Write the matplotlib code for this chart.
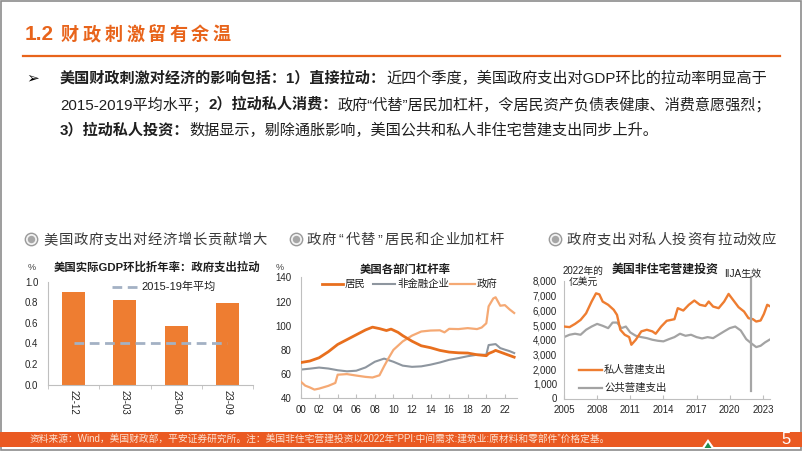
import matplotlib
matplotlib.use("Agg")
import matplotlib.pyplot as plt
from matplotlib.lines import Line2D
from matplotlib.patches import Rectangle, Circle, Polygon

plt.rcParams['font.family'] = ['Liberation Sans', 'Noto Sans CJK SC', 'DejaVu Sans']
plt.rcParams['axes.unicode_minus'] = False

# ---------------- data ----------------
gdp_cats = ['22-12', '23-03', '23-06', '23-09']
gdp_gov = [0.90, 0.82, 0.57, 0.79]
gdp_avg_1519 = 0.40

hh_years = [2000, 2001, 2002, 2003, 2004, 2005, 2006, 2007, 2007.75, 2008.5, 2009.25, 2009.75,
            2010.5, 2011, 2012, 2013, 2014, 2015, 2016, 2017, 2018, 2019, 2020, 2020.25,
            2020.75, 2021, 2022, 2023]
hh_vals = [69.5, 70.8, 73.5, 78.5, 84.5, 88.5, 92.5, 96.5, 98.8, 97.6, 96.0, 97.2,
           94.5, 91.8, 87.2, 83.4, 81.8, 79.6, 78.2, 77.6, 77.4, 76.0, 75.2, 77.0,
           78.6, 79.6, 76.8, 74.0]

nfc_years = [2000, 2001, 2002, 2003, 2004, 2005, 2006, 2007, 2008, 2009, 2010, 2011, 2012,
             2013, 2014, 2015, 2016, 2017, 2018, 2019, 2020, 2020.25, 2021, 2021.5, 2022,
             2022.5, 2023]
nfc_vals = [63.7, 64.5, 65.4, 64.6, 63.2, 62.3, 62.8, 65.5, 70.2, 72.8, 70.2, 67.0, 66.0,
            66.4, 67.8, 69.6, 71.8, 73.2, 74.8, 76.0, 76.0, 84.0, 84.8, 81.5, 80.2,
            79.0, 77.4]

gov_years = [2000, 2000.5, 2001, 2001.5, 2002, 2003, 2003.75, 2004.0, 2005, 2006, 2007,
             2007.75, 2008.5, 2009, 2009.5, 2010, 2011, 2012, 2013, 2014, 2015, 2015.5,
             2016, 2017, 2018, 2019, 2019.5, 2020.0, 2020.25, 2020.75, 2021.0, 2021.5,
             2022, 2022.5, 2023]
gov_vals = [54.0, 50.5, 49.0, 47.2, 48.0, 50.3, 52.7, 59.5, 60.0, 58.8, 57.7,
            57.2, 59.0, 66.5, 73.5, 80.0, 87.0, 91.8, 95.2, 96.0, 96.2, 94.5,
            97.4, 97.2, 98.0, 97.2, 98.5, 102.0, 116.0, 122.5, 123.5, 116.5,
            117.0, 113.5, 110.5]

priv_years = [2005, 2005.5, 2006, 2006.5, 2007, 2007.5, 2007.9, 2008.2, 2008.5, 2009, 2009.5,
              2009.8, 2010.1, 2010.5, 2010.9, 2011.1, 2011.5, 2012, 2012.5, 2013, 2013.3,
              2013.8, 2014.3, 2015, 2015.3, 2015.8, 2016.3, 2016.8, 2017.3, 2017.8, 2018.1,
              2018.5, 2019, 2019.5, 2019.9, 2020.3, 2020.8, 2021.3, 2021.7, 2022.1, 2022.4,
              2022.8, 2023.1, 2023.4, 2023.6]
priv_vals = [4900, 4860, 5080, 5350, 5800, 6600, 7160, 7090, 6600, 6380, 6040,
             5690, 4680, 4340, 4180, 3660, 4000, 4570, 4680, 4570, 4410,
             4900, 5290, 5400, 6150, 5990, 6380, 6670, 6380, 6300, 6600,
             6260, 6150, 6600, 7120, 6720, 6220, 5920, 5470, 5400, 5240,
             5310, 5760, 6380, 6300]

pub_years = [2005, 2005.5, 2006, 2006.5, 2007, 2007.5, 2008, 2008.5, 2009, 2009.4, 2009.8,
             2010.2, 2010.6, 2011, 2011.5, 2012, 2012.5, 2013, 2013.5, 2014, 2014.5, 2015,
             2015.5, 2016, 2016.5, 2017, 2017.5, 2018, 2018.5, 2019, 2019.5, 2020, 2020.5,
             2021, 2021.5, 2022, 2022.4, 2022.8, 2023.2, 2023.6]
pub_vals = [4180, 4340, 4410, 4340, 4680, 4900, 5080, 4950, 4790, 5170, 5170,
            4790, 4900, 4500, 4270, 4180, 4110, 4000, 3930, 3890, 4040, 4180,
            4410, 4270, 4340, 4180, 4090, 4180, 4110, 4340, 4570, 4790, 4900,
            4630, 4040, 3730, 3500, 3590, 3820, 4000]

iija_date = 2021.9

# ---------------- styles ----------------
W, H = 802, 451
ORANGE = '#E8641B'
BAR = '#EE7D31'
HH = '#E86F1E'
GOVC = '#F5A974'
NFC = '#8E969F'
PUB = '#A3A3A3'
TXT = '#1F1F1F'
SPINE = '#BFBFBF'

fig = plt.figure(figsize=(W / 100, H / 100), dpi=100)
fig.patch.set_facecolor('white')


def fx(x):
    return x / W


def fy(y):
    return 1 - y / H


def ftext(x, y, s, **kw):
    kw.setdefault('va', 'center')
    kw.setdefault('color', TXT)
    return fig.text(fx(x), fy(y), s, **kw)


def fline(x1, x2, y1, y2, **kw):
    fig.add_artist(Line2D([fx(x1), fx(x2)], [fy(y1), fy(y2)], transform=fig.transFigure, **kw))


def spaced(x_center0, y, s, steps, **kw):
    x = x_center0
    for i, ch in enumerate(s):
        ftext(x, y, ch, ha='center', **kw)
        if i < len(s) - 1:
            x += (steps[i] + steps[i + 1]) / 2 if isinstance(steps, list) else steps


# frame
fig.add_artist(Rectangle((0.001, 0.002), 0.998, 0.996, transform=fig.transFigure,
                         fill=False, edgecolor='#8C8C8C', lw=1.2))

# title
ftext(25, 35, '1.2', ha='left', fontsize=15, fontweight='bold', color=ORANGE)
spaced(70, 35, '财政刺激留有余温', 21.7, fontsize=13, fontweight='bold', color=ORANGE)
fline(23, 780, 55.5, 55.5, color=ORANGE, lw=1.6)

# bullet text
renderer = fig.canvas.get_renderer()


def seq_text(x, y, segments, size):
    for s, w in segments:
        t = ftext(x, y, s, ha='left', fontsize=size, fontweight=w)
        bb = t.get_window_extent(renderer=renderer)
        x += bb.width
    return x


ftext(33, 78, '\u27a2', ha='center', fontsize=11, family=['DejaVu Sans'], color='#000000')
BS = 10.9
seq_text(60, 78, [('美国财政刺激对经济的影响包括：1）直接拉动：', 'bold'),
                  ('近四个季度，美国政府支出对GDP环比的拉动率明显高于', 'normal')], BS)
seq_text(60, 104.5, [('2015-2019平均水平；', 'normal'), ('2）拉动私人消费：', 'bold'),
                     ('政府“代替”居民加杠杆，令居民资产负债表健康、消费意愿强烈；', 'normal')], BS)
seq_text(60, 130.5, [('3）拉动私人投资：', 'bold'),
                     ('数据显示，剔除通胀影响，美国公共和私人非住宅营建支出同步上升。', 'normal')], BS)

# subtitle icons & texts
def icon(x, y):
    fig.add_artist(Circle((x / 100, (H - y) / 100), 0.062, transform=fig.dpi_scale_trans,
                          facecolor='#F2F2F2', edgecolor='#9A9A9A', lw=1.0))
    fig.add_artist(Circle((x / 100, (H - y) / 100), 0.037, transform=fig.dpi_scale_trans,
                          facecolor='#A6A6A6', edgecolor='none'))


SUBC = '#3A3A3A'
icon(31.5, 239.5)
spaced(50.5, 240, '美国政府支出对经济增长贡献增大', 14.9, fontsize=10.3, color=SUBC)
icon(296.5, 239.5)
sub2 = '政府“代替”居民和企业加杠杆'
spaced(314, 240, sub2, [9 if c in '“”' else 15 for c in sub2], fontsize=10.3, color=SUBC)
icon(555.5, 239.5)
spaced(574, 240, '政府支出对私人投资有拉动效应', 15.0, fontsize=10.3, color=SUBC)


def style_axes(ax):
    for s in ['top', 'right']:
        ax.spines[s].set_visible(False)
    for s in ['left', 'bottom']:
        ax.spines[s].set_color(SPINE)
        ax.spines[s].set_linewidth(0.8)
    ax.tick_params(axis='both', labelsize=7, colors='#262626')
    ax.tick_params(axis='y', length=0)
    ax.patch.set_alpha(0)


# ---------------- chart 1 ----------------
ax1 = fig.add_axes([fx(48), fy(384.7), 205 / W, 103 / H])
style_axes(ax1)
x1 = list(range(len(gdp_cats)))
ax1.bar(x1, gdp_gov, width=0.45, color=BAR, zorder=2)
ax1.plot(x1, [gdp_avg_1519] * len(x1), color='#A3B1C4', lw=2, dashes=(3.5, 2), zorder=3)
ax1.set_xlim(-0.5, len(gdp_cats) - 0.5)
ax1.set_ylim(0, 1.0)
ax1.set_yticks([0.0, 0.2, 0.4, 0.6, 0.8, 1.0])
ax1.set_yticklabels(['0.0', '0.2', '0.4', '0.6', '0.8', '1.0'])
ax1.tick_params(axis='y', pad=7)
ax1.set_xticks(x1)
ax1.set_xticklabels(gdp_cats, rotation=-90)
ax1.tick_params(axis='x', length=0, pad=4)
ax1.set_xticks([i - 0.5 for i in range(len(gdp_cats) + 1)], minor=True)
ax1.tick_params(axis='x', which='minor', length=3, color=SPINE, direction='out')
ftext(32, 267, '%', ha='center', fontsize=6.5, color='#404040')
ftext(157, 267, '美国实际GDP环比折年率：政府支出拉动', ha='center', fontsize=8.2, fontweight='bold')
fline(112, 137, 287, 287, color='#A3B1C4', lw=2, dashes=(3.5, 2))
ftext(141, 287, '2015-19年平均', ha='left', fontsize=8)

# ---------------- chart 2 ----------------
ax2 = fig.add_axes([fx(300.5), fy(398.3), 216 / W, 121 / H])
style_axes(ax2)
ax2.plot(nfc_years, nfc_vals, color=NFC, lw=1.5, zorder=2)
ax2.plot(gov_years, gov_vals, color=GOVC, lw=1.6, zorder=3)
ax2.plot(hh_years, hh_vals, color=HH, lw=2.0, zorder=4)
ax2.set_xlim(2000, 2023.25)
ax2.set_ylim(40, 140)
ax2.set_yticks(range(40, 141, 20))
ax2.tick_params(axis='y', pad=6.5)
ax2.set_xticks(range(2000, 2023, 2))
ax2.set_xticklabels(['%02d' % (y % 100) for y in range(2000, 2023, 2)])
ax2.tick_params(axis='x', direction='in', length=3, color=SPINE, pad=5)
ftext(280, 267, '%', ha='center', fontsize=6.5, color='#404040')
ftext(405, 269, '美国各部门杠杆率', ha='center', fontsize=8.2, fontweight='bold')
fline(322, 343, 284, 284, color=HH, lw=2.0)
ftext(345, 284, '居民', ha='left', fontsize=7.5)
fline(373, 395, 284, 284, color=NFC, lw=1.5)
ftext(397, 284, '非金融企业', ha='left', fontsize=7.5)
fline(450, 475, 284, 284, color=GOVC, lw=1.6)
ftext(477, 284, '政府', ha='left', fontsize=7.5)

# ---------------- chart 3 ----------------
ax3 = fig.add_axes([fx(564), fy(398.5), 206 / W, 117.5 / H])
style_axes(ax3)
ax3.plot(pub_years, pub_vals, color=PUB, lw=1.6, zorder=2)
ax3.plot(priv_years, priv_vals, color=BAR, lw=1.7, zorder=3)
ax3.plot([iija_date, iija_date], [500, 8250], color='#A6A6A6', lw=1.6, clip_on=False, zorder=4)
ax3.set_xlim(2005, 2023.65)
ax3.set_ylim(0, 8000)
ax3.set_yticks(range(0, 8001, 1000))
ax3.set_yticklabels(['{:,}'.format(v) for v in range(0, 8001, 1000)])
ax3.tick_params(axis='y', pad=5)
ax3.set_xticks(range(2005, 2024, 3))
ax3.tick_params(axis='x', direction='in', length=3, color=SPINE, pad=5)
ftext(563, 270.5, '2022年的', ha='left', fontsize=7)
ftext(569, 281.5, '亿美元', ha='left', fontsize=7)
ftext(665, 270, '美国非住宅营建投资', ha='center', fontsize=8.6, fontweight='bold')
ftext(743, 274, 'IIJA生效', ha='center', fontsize=7.2)
fline(579, 602, 370, 370, color=BAR, lw=1.7)
ftext(604, 370, '私人营建支出', ha='left', fontsize=7.5)
fline(579, 602, 387.5, 387.5, color=PUB, lw=1.6)
ftext(604, 387.5, '公共营建支出', ha='left', fontsize=7.5)

# ---------------- footer ----------------
fig.add_artist(Rectangle((0, fy(446.5)), 1, (446.5 - 431.5) / H, transform=fig.transFigure,
                         facecolor='#EA5A22', edgecolor='none'))
ftext(30, 439, '资料来源：Wind，美国财政部，平安证券研究所。注：美国非住宅营建投资以2022年“PPI:中间需求:建筑业:原材料和零部件”价格定基。',
      ha='left', fontsize=7.0, color='#FCE3D2')
ftext(786, 439, '5', ha='center', fontsize=12, color='white')
fig.add_artist(Polygon([(fx(701), fy(449)), (fx(715), fy(449)), (fx(708), fy(439))],
                       closed=True, transform=fig.transFigure, facecolor='white', edgecolor='none'))
fig.add_artist(Polygon([(fx(704.5), fy(448)), (fx(711.5), fy(448)), (fx(708), fy(442.5))],
                       closed=True, transform=fig.transFigure, facecolor='#1E8C4E', edgecolor='none'))

fig.savefig('out.png', dpi=100)
